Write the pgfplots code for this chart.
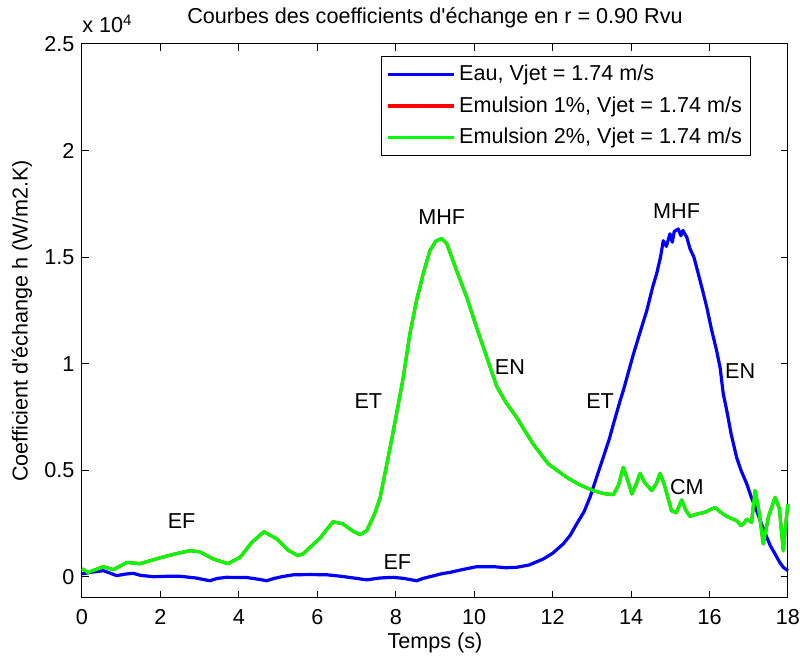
\documentclass[border=0pt]{standalone}
\usepackage{fontspec}
\setmainfont{Liberation Sans}
\usepackage{pgfplots}
\usepackage{pgfplotstable}
\pgfplotsset{compat=1.18}
\pgfplotstableread{
t v
0 375
0.15 200
0.35 330
0.54 470
0.8 330
1.15 670
1.48 610
2.0 890
2.4 1080
2.75 1220
3.0 1170
3.35 830
3.72 610
4.03 910
4.33 1610
4.64 2110
4.96 1780
5.25 1250
5.5 990
5.64 1070
6.07 1820
6.4 2580
6.65 2480
6.9 2150
7.09 1970
7.26 2160
7.45 2900
7.6 3700
7.86 6100
8.02 7650
8.19 9340
8.36 11400
8.53 12960
8.70 14220
8.87 15300
9.02 15750
9.17 15870
9.30 15630
9.55 14370
9.81 13110
10.06 11700
10.32 10300
10.57 8950
10.8 8200
11.08 7480
11.5 6230
11.89 5290
12.36 4660
12.7 4300
13.04 4040
13.3 3900
13.55 3850
13.68 4300
13.8 5130
13.9 4600
14.02 3880
14.12 4300
14.23 4850
14.35 4400
14.53 4040
14.65 4400
14.74 4850
14.85 4300
15.03 3100
15.15 3000
15.29 3600
15.4 3100
15.5 2830
15.7 2950
15.88 3020
16.14 3250
16.3 3000
16.44 2830
16.6 2700
16.69 2630
16.8 2400
16.86 2470
16.95 2700
17.07 2550
17.16 4040
17.25 3200
17.37 1540
17.5 2800
17.67 3720
17.78 3200
17.88 1220
17.95 2600
18.0 3410
}\emulsion
\pgfplotstableread{
t v
0 130
0.2 200
0.54 280
0.7 180
0.88 50
1.1 120
1.3 160
1.5 60
1.82 0
2.2 20
2.5 20
2.9 -60
3.26 -190
3.45 -80
3.69 -30
4.2 -40
4.5 -120
4.71 -190
4.9 -80
5.1 0
5.39 90
5.8 100
6.24 90
6.6 20
7.0 -80
7.26 -150
7.6 -60
7.94 -30
8.2 -80
8.53 -190
8.7 -80
8.87 0
9.2 150
9.38 200
9.64 310
10.06 470
10.5 470
10.8 420
11.08 440
11.4 550
11.76 830
12.0 1100
12.27 1540
12.45 1950
12.61 2470
12.8 3050
12.95 3720
13.1 4550
13.29 5600
13.45 6500
13.55 7170
13.72 8260
13.8 8730
14.06 10450
14.25 11600
14.4 12490
14.55 13600
14.65 14210
14.75 15000
14.82 15770
14.9 15500
14.99 16090
15.05 15700
15.1 16200
15.2 16320
15.27 16000
15.32 16250
15.42 15930
15.5 15400
15.6 15000
15.67 14520
15.8 13600
15.93 12640
16.05 11600
16.18 10610
16.27 9800
16.35 8580
16.44 7790
16.55 6700
16.69 5600
16.8 5000
16.95 4350
17.07 3700
17.2 3100
17.33 2450
17.46 1850
17.55 1450
17.67 1070
17.78 700
17.88 440
18.0 280
}\eau
\definecolor{mblue}{RGB}{0,0,255}
\definecolor{mred}{RGB}{255,0,0}
\definecolor{mgreen}{RGB}{0,255,0}
\begin{document}
\fontsize{10.8}{13}\selectfont
\begin{tikzpicture}
\begin{axis}[
  name=ax,
  at={(0,0)}, anchor=south west,
  scale only axis, width=353pt, height=277pt,
  xmin=0, xmax=18, ymin=-1000, ymax=25000,
  xtick={0,2,...,18},
  ytick={0,5000,10000,15000,20000,25000},
  yticklabels={0,0.5,1,1.5,2,2.5},
  scaled ticks=false,
  tick align=inside,
  major tick length=3.5pt,
  tick style={black, line width=0.5pt},
  axis line style={line width=0.5pt},
  /pgf/number format/assume math mode=true,
  ticklabel style={font=\fontsize{10.8}{13}\selectfont},
  xticklabel style={yshift=-2pt},
  xlabel={Temps (s)},
  xlabel style={at={(axis description cs:0.5,-0.0812)}, anchor=center, font=\fontsize{10.8}{13}\selectfont},
  ylabel={Coefficient d\textquotesingle échange h (W/m2.K)},
  ylabel style={at={(axis description cs:-0.085,0.5)}, anchor=center, rotate=0, font=\fontsize{10.8}{13}\selectfont},
  clip=false,
  legend cell align=left,
  legend style={at={(rel axis cs:0.9476,0.9783)}, anchor=north east, draw=black, line width=0.5pt,
    font=\fontsize{10.8}{13}\selectfont, row sep=2.3pt, inner sep=2.3pt},
  legend image code/.code={\draw[#1] (0pt,0pt) -- (33pt,0pt);},
  every axis plot/.append style={line width=1.6pt, line join=round},
]
\addplot[mblue] table[x=t,y=v] {\eau};
\addlegendentry{Eau, Vjet = 1.74 m/s}
\addplot[mred] table[x=t,y=v] {\emulsion};
\addlegendentry{Emulsion 1\%, Vjet = 1.74 m/s}
\addplot[mgreen] table[x=t,y=v] {\emulsion};
\addlegendentry{Emulsion 2\%, Vjet = 1.74 m/s}
\node at (axis cs:2.54,2630) {EF};
\node at (axis cs:8.04,670) {EF};
\node at (axis cs:7.3,8260) {ET};
\node at (axis cs:9.17,16870) {MHF};
\node at (axis cs:10.91,9830) {EN};
\node at (axis cs:13.21,8260) {ET};
\node at (axis cs:15.16,17180) {MHF};
\node at (axis cs:16.78,9670) {EN};
\node at (axis cs:15.42,4190) {CM};
\end{axis}
\node[anchor=base west, inner sep=0pt] at ([yshift=5.5pt]ax.north west) {x 10\textsuperscript{4}};
\node[anchor=center] at ([yshift=13pt]ax.north) {Courbes des coefficients d\textquotesingle échange en r = 0.90 Rvu};
\pgfresetboundingbox
\path (-41pt,-30.5pt) rectangle (359pt,299pt);
\end{tikzpicture}
\end{document}
